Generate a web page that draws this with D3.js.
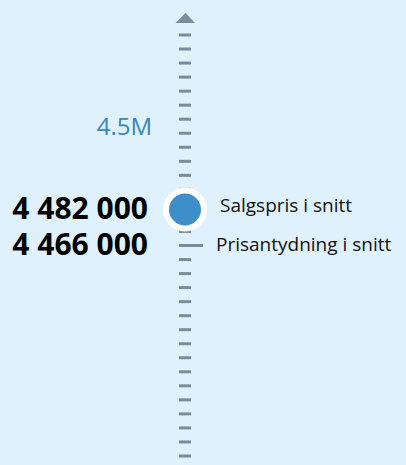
<!DOCTYPE html>
<html>
<head>
<meta charset="utf-8">
<script src="https://cdn.jsdelivr.net/npm/d3@7"></script>
<style>
  body { margin: 0; background: #dff1fc; }
  text { font-family: "Open Sans", sans-serif; }
</style>
</head>
<body>
<div id="canvas"></div>
<script>
var width = 406;
var height = 465;

// values
const seriesNames = ["Salgspris i snitt", "Prisantydning i snitt"];
const seriesValues = [4482000, 4466000];
const axisLabels = [4500000];
const tickStep = 4000;
const domainMin = 4406000;
const domainMax = 4526000;

var svg = d3.select("#canvas").append("svg")
      .attr("width", width)
      .attr("height", height)
      .style("background-color", "#dff1fc")

const axisX = 185;

const y = d3.scaleLinear()
    .domain([domainMin, domainMax])
    .range([456, 35]);

const tickValues = d3.range(domainMin, domainMax + 1, tickStep);

// axis arrow
svg.append("path")
    .attr("d", `M${axisX - 9.5},23 L${axisX + 0.5},13 L${axisX + 10},23 Z`)
    .attr("fill", "#7a8c9b");

// dashes
svg.selectAll(".tick")
    .data(tickValues)
    .enter().append("line")
    .attr("class", "tick")
    .attr("x1", axisX - 6)
    .attr("x2", axisX + 6)
    .attr("y1", d => y(d))
    .attr("y2", d => y(d))
    .attr("stroke", "#7a8c9b")
    .attr("stroke-width", 3);

// axis label
svg.selectAll(".axis-label")
    .data(axisLabels)
    .enter().append("text")
    .attr("class", "axis-label")
    .attr("x", 152)
    .attr("y", d => y(d))
    .attr("dy", "0.35em")
    .attr("text-anchor", "end")
    .attr("font-size", 24)
    .attr("fill", "#3a86be")
    .text(d => d3.format(".2s")(d));

// stack the two value rows so they sit one line apart
const rowGap = 36;
const baseY = y(seriesValues[1]);
const rowY = [baseY - rowGap, baseY];

const fmt = d => d3.format(",")(d).replace(/,/g, " ");

// prisantydning marker: long dash
svg.append("line")
    .attr("x1", axisX - 6)
    .attr("x2", axisX + 18)
    .attr("y1", rowY[1])
    .attr("y2", rowY[1])
    .attr("stroke", "#7a8c9b")
    .attr("stroke-width", 3);

// salgspris marker: circle
svg.append("circle")
    .attr("cx", axisX)
    .attr("cy", rowY[0])
    .attr("r", 19)
    .attr("fill", "#3c8fc9")
    .attr("stroke", "white")
    .attr("stroke-width", 6);

// big numbers
svg.selectAll(".value")
    .data(seriesValues)
    .enter().append("text")
    .attr("class", "value")
    .attr("x", 148)
    .attr("y", (d, i) => rowY[i] + 9)
    .attr("text-anchor", "end")
    .attr("font-size", 30)
    .attr("font-weight", "bold")
    .attr("fill", "#000")
    .text(fmt);

// series names
svg.selectAll(".name")
    .data(seriesNames)
    .enter().append("text")
    .attr("class", "name")
    .attr("x", (d, i) => i === 0 ? 220 : 216)
    .attr("y", (d, i) => i === 0 ? rowY[0] + 2 : rowY[1] + 5)
    .attr("font-size", 19)
    .attr("fill", "#111")
    .text(d => d);
</script>
</body>
</html>
